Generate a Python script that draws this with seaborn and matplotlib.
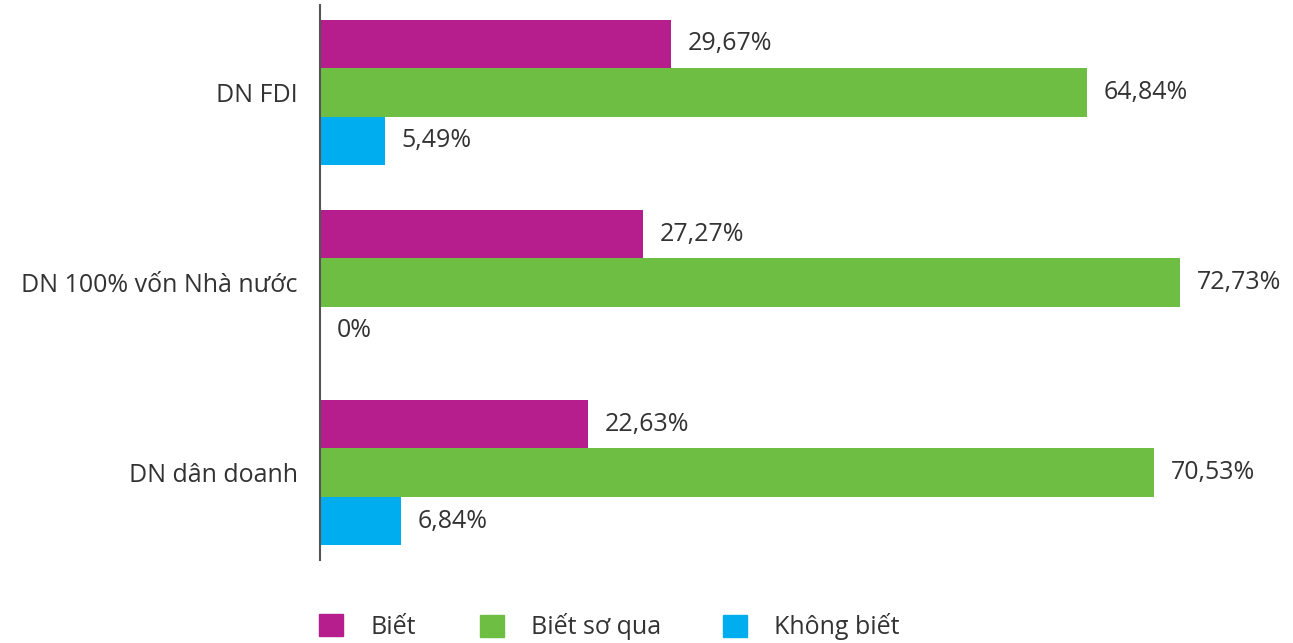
import pandas as pd
import seaborn as sns
import matplotlib.pyplot as plt

groups = ["DN FDI", "DN 100% vốn Nhà nước", "DN dân doanh"]
levels = ["Biết", "Biết sơ qua", "Không biết"]
bia = [29.67, 27.27, 22.63]
so_qua = [64.84, 72.73, 70.53]
khong = [5.49, 0.0, 6.84]
colors = ["#B51E8C", "#6EBE44", "#00AEEF"]

rows = []
for i, g in enumerate(groups):
    for lv, vals in zip(levels, [bia, so_qua, khong]):
        rows.append({"group": g, "level": lv, "value": vals[i]})
df = pd.DataFrame(rows)

sns.set_style("white")
plt.rcParams['font.family'] = ['Open Sans', 'DejaVu Sans']
txt = "#333333"
fs = 18

fig = plt.figure(figsize=(12.93, 6.43), dpi=100)
ax = fig.add_axes([320 / 1293, 1 - 560 / 643, 970 / 1293, 555 / 643])

sns.barplot(data=df, y="group", x="value", hue="level", order=groups,
            hue_order=levels, palette=colors, orient="h", width=0.765,
            saturation=1, linewidth=0, ax=ax, legend=False)

for cont in ax.containers:
    labels = [f"{v:.2f}".replace(".", ",").replace(",00", "") + "%" for v in cont.datavalues]
    ax.bar_label(cont, labels=labels, padding=12, fontsize=fs, color=txt)

ax.set_xlim(0, 82)
ax.set_ylim(2.46, -0.46)
ax.set_xlabel("")
ax.set_ylabel("")
ax.set_xticks([])
ax.tick_params(axis="y", length=0, pad=16, labelsize=fs, labelcolor=txt)
for s in ["top", "right", "bottom"]:
    ax.spines[s].set_visible(False)
ax.spines["left"].set_color("#555555")
ax.spines["left"].set_linewidth(1.5)

# legend entries placed one by one to match the original spacing
for c, lv, x in zip(colors, levels, [314, 475, 718]):
    fig.legend([plt.Rectangle((0, 0), 1, 1, color=c)], [lv], loc="center left",
               bbox_to_anchor=(x / 1293, 1 - 627 / 643), frameon=False,
               fontsize=fs, labelcolor=txt, borderaxespad=0, borderpad=0.2,
               handlelength=0.95, handleheight=0.95, handletextpad=1.1)

fig.savefig("out.png", dpi=100)
